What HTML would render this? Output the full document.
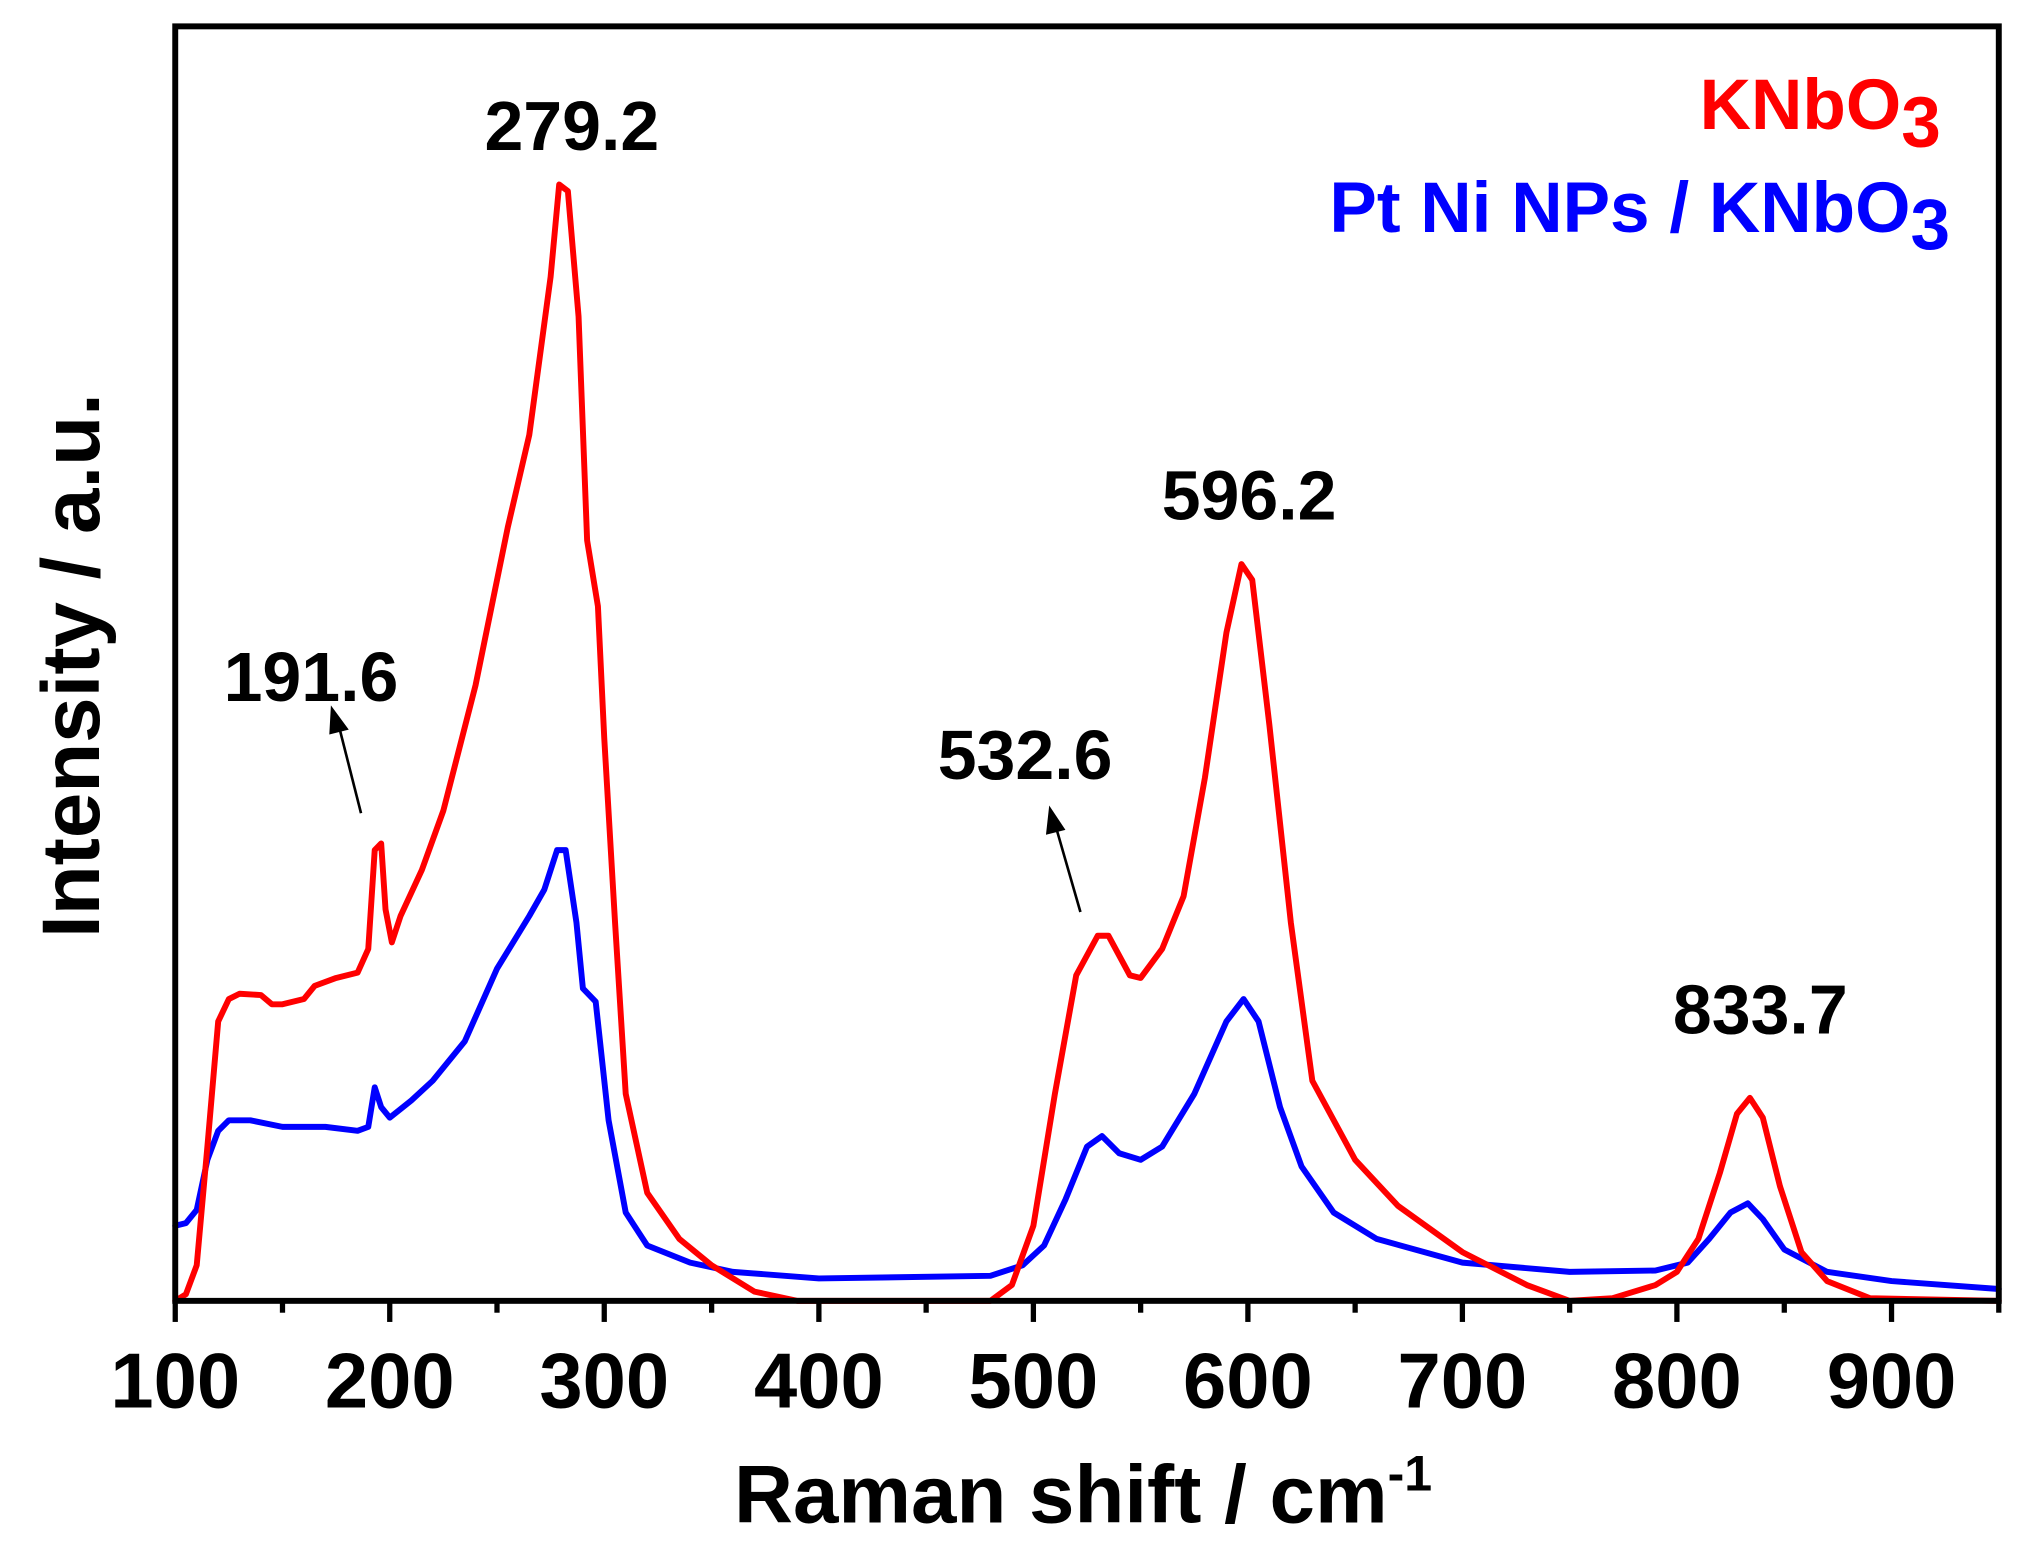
<!DOCTYPE html>
<html><head><meta charset="utf-8"><style>html,body{margin:0;padding:0;background:#fff}svg{display:block}</style></head>
<body>
<svg width="2037" height="1546" viewBox="0 0 1546 1173" preserveAspectRatio="none" xmlns="http://www.w3.org/2000/svg" font-family="Liberation Sans, sans-serif" font-weight="bold">
<rect x="0" y="0" width="1546" height="1173" fill="#fff"/>
<g fill="none" stroke-width="4.5" stroke-linejoin="round" stroke-linecap="round">
<polyline stroke="#00f" points="133,930 141.1,928 149.3,918 157.4,880 165.6,858 173.7,850 190,850 214.4,855 247,855 271.4,858 279.5,855 284.4,825 289.3,840 295.8,848 312.1,835 328.4,820 352.8,790 377.2,735 401.7,695 413.1,675 422.8,645 429.3,645 437.5,700 442.4,750 452.1,760 461.9,850 474.9,920 491.2,945 523.8,958 556.3,965 621.5,970 751.7,968 776.1,960 792.4,945 808.7,910 825,870 836.4,862 849.4,875 865.7,880 882,870 906.4,830 930.8,775 943.8,758 955.2,775 971.5,840 987.8,885 1012.2,920 1044.8,940 1109.9,958 1191.3,965 1256.5,964 1280.9,958 1297.2,940 1313.4,920 1326.5,913 1337.9,925 1354.2,948 1386.7,965 1435.6,972 1517,978"/>
<polyline stroke="#f00" points="133,987 141.1,982 149.3,960 157.4,870 165.6,775 173.7,758 181.8,754 198.1,755 206.3,762 214.4,762 230.7,758 238.8,748 255.1,742 271.4,738 279.5,720 284.4,645 289.3,640 292.6,690 297.4,715 304,695 320.2,660 336.5,615 360.9,520 385.4,400 401.7,330 417.9,210 424.4,140 431,145 439.1,240 445.6,410 453.8,460 458.6,560 466.8,700 474.9,830 491.2,905 515.6,940 540.1,960 572.6,980 605.2,987 751.7,987 768,975 784.3,930 800.6,830 816.8,740 833.1,710 841.3,710 857.5,740 865.7,742 882,720 898.3,680 914.5,590 930.8,480 942.2,428 950.4,440 963.4,550 979.7,700 996,820 1028.5,880 1061.1,915 1109.9,950 1158.8,975 1191.3,987 1223.9,985 1256.5,975 1272.7,965 1289,940 1305.3,890 1318.3,845 1328.1,833 1337.9,848 1350.9,900 1367.2,950 1386.7,972 1419.3,985 1517,987"/>
</g>
<rect x="133" y="20" width="1384" height="967" fill="none" stroke="#000" stroke-width="4.5"/>
<g stroke="#000" stroke-width="4">
<line x1="133" y1="987" x2="133" y2="1003"/><line x1="214.4" y1="987" x2="214.4" y2="996"/>
<line x1="295.8" y1="987" x2="295.8" y2="1003"/><line x1="377.2" y1="987" x2="377.2" y2="996"/>
<line x1="458.6" y1="987" x2="458.6" y2="1003"/><line x1="540.1" y1="987" x2="540.1" y2="996"/>
<line x1="621.5" y1="987" x2="621.5" y2="1003"/><line x1="702.9" y1="987" x2="702.9" y2="996"/>
<line x1="784.3" y1="987" x2="784.3" y2="1003"/><line x1="865.7" y1="987" x2="865.7" y2="996"/>
<line x1="947.1" y1="987" x2="947.1" y2="1003"/><line x1="1028.5" y1="987" x2="1028.5" y2="996"/>
<line x1="1109.9" y1="987" x2="1109.9" y2="1003"/><line x1="1191.3" y1="987" x2="1191.3" y2="996"/>
<line x1="1272.7" y1="987" x2="1272.7" y2="1003"/><line x1="1354.2" y1="987" x2="1354.2" y2="996"/>
<line x1="1435.6" y1="987" x2="1435.6" y2="1003"/><line x1="1517" y1="987" x2="1517" y2="996"/>
</g>
<g font-size="59" text-anchor="middle">
<text x="133" y="1068">100</text><text x="295.8" y="1068">200</text><text x="458.6" y="1068">300</text>
<text x="621.5" y="1068">400</text><text x="784.3" y="1068">500</text><text x="947.1" y="1068">600</text>
<text x="1109.9" y="1068">700</text><text x="1272.7" y="1068">800</text><text x="1435.6" y="1068">900</text>
</g>
<text x="822" y="1155" font-size="62" text-anchor="middle">Raman shift / cm<tspan dy="-24" font-size="38">-1</tspan></text>
<text transform="translate(75,505) rotate(-90)" font-size="62" text-anchor="middle">Intensity / a.u.</text>
<g font-size="53" text-anchor="middle">
<text x="434" y="114">279.2</text>
<text x="236" y="532">191.6</text>
<text x="778" y="591">532.6</text>
<text x="948" y="394">596.2</text>
<text x="1336" y="784">833.7</text>
</g>
<g stroke="#000" stroke-width="2" fill="#000">
<line x1="274" y1="617" x2="257" y2="550"/><polygon points="252,538 251,556 263,553"/>
<line x1="820" y1="692" x2="801" y2="626"/><polygon points="797,614 795,632 807,629"/>
</g>
<text x="1473" y="98" font-size="54" fill="#f00" text-anchor="end">KNbO<tspan dy="13">3</tspan></text>
<text x="1480" y="176" font-size="54" fill="#00f" text-anchor="end">Pt Ni NPs / KNbO<tspan dy="13">3</tspan></text>
</svg>
</body></html>
